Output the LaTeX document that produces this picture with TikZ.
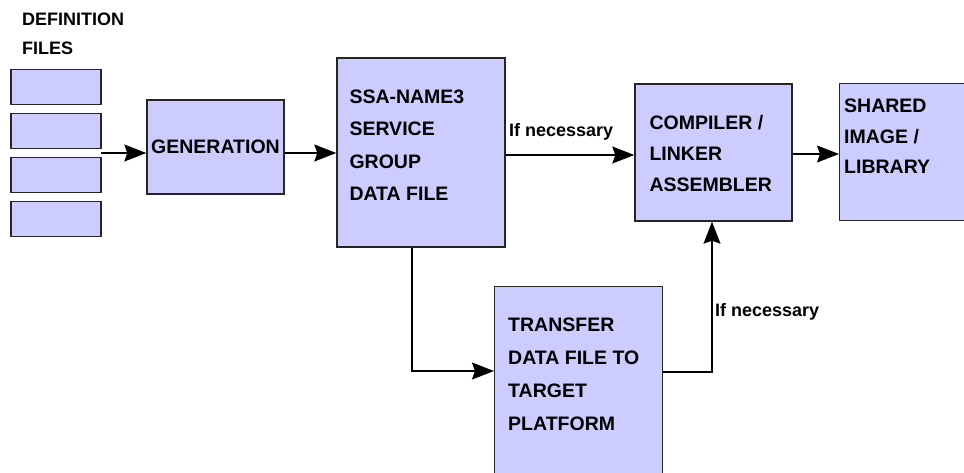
\documentclass[tikz,border=0pt]{standalone}
\usepackage{fontspec}
\setmainfont{Liberation Sans}
\usetikzlibrary{positioning,arrows.meta}

\definecolor{boxfill}{RGB}{204,204,255}

\tikzset{
  blk/.style={draw=black!85, line width=1.4pt, fill=boxfill, rectangle, inner sep=0pt},
  blktext/.style={inner sep=0pt, align=left, font=\bfseries\fontsize{19.5}{32.5}\selectfont},
  lbl/.style={inner sep=0pt, font=\bfseries\fontsize{18}{29}\selectfont},
  flow/.style={line width=1.3pt, -{Stealth[length=22pt,width=17pt,inset=3pt]}},
}

\begin{document}
\begin{tikzpicture}[x=1pt,y=-1pt]
  \clip (0,0) rectangle (964,472);
  \fill[white] (0,0) rectangle (964,472);

  % definition files
  \node[lbl, align=left, anchor=north west] (deflbl) at (22,12.5) {DEFINITION\\FILES};
  \foreach \i/\y in {1/87,2/131,3/175,4/219}
    \node[blk, minimum width=90pt, minimum height=35pt] (def\i) at (56,\y) {};
  \coordinate (defout) at (101,153);

  % blocks
  \node[blk, minimum width=137pt, minimum height=94pt, font=\bfseries\fontsize{19.5}{23}\selectfont] (gen) at (215.5,147) {GENERATION};
  \node[blk, minimum width=168pt, minimum height=189pt] (ssa) at (421,152.5) {};
  \node[blk, minimum width=157pt, minimum height=137pt] (comp) at (713.5,152.5) {};
  \node[blk, minimum width=140pt, minimum height=137pt, anchor=north west] (shared) at (839,83) {};
  \node[blk, minimum width=168pt, minimum height=220pt, anchor=north west] (xfer) at (494,286) {};

  \node[blktext, below right=32pt and 13pt of ssa.north west] (ssatext) {SSA-NAME3\\SERVICE\\GROUP\\DATA FILE};
  \node[blktext, below right=32pt and 15pt of comp.north west, font=\bfseries\fontsize{19.5}{31}\selectfont] (comptext) {COMPILER /\\LINKER\\ASSEMBLER};
  \node[blktext, below right=16pt and 5pt of shared.north west, font=\bfseries\fontsize{19.5}{30.5}\selectfont] (sharedtext) {SHARED\\IMAGE /\\LIBRARY};
  \node[blktext, below right=32pt and 14pt of xfer.north west, font=\bfseries\fontsize{19.5}{33}\selectfont] (xfertext) {TRANSFER\\DATA FILE TO\\TARGET\\PLATFORM};

  % connectors
  \coordinate (split) at (412,371);
  \coordinate (rise) at (712,372);
  \draw[flow] (defout) -- (defout -| gen.west);
  \draw[flow] (gen.east |- defout) -- (ssa.west |- defout);
  \draw[flow] ([yshift=-2.5pt]ssa.east) -- ([yshift=-2.5pt]ssa.east -| comp.west);
  \draw[flow] ([yshift=-1.5pt]comp.east) -- ([yshift=-1.5pt]comp.east -| shared.west);
  \draw[flow] (ssa.south -| split) -- (split) -- (split -| xfer.west);
  \draw[flow] (rise -| xfer.east) -- (rise) -- (rise |- comp.south);

  \node[lbl, anchor=base west] (nec1) at (509,136) {If necessary};
  \node[lbl, anchor=base west] (nec2) at (715,316) {If necessary};
\end{tikzpicture}
\end{document}
